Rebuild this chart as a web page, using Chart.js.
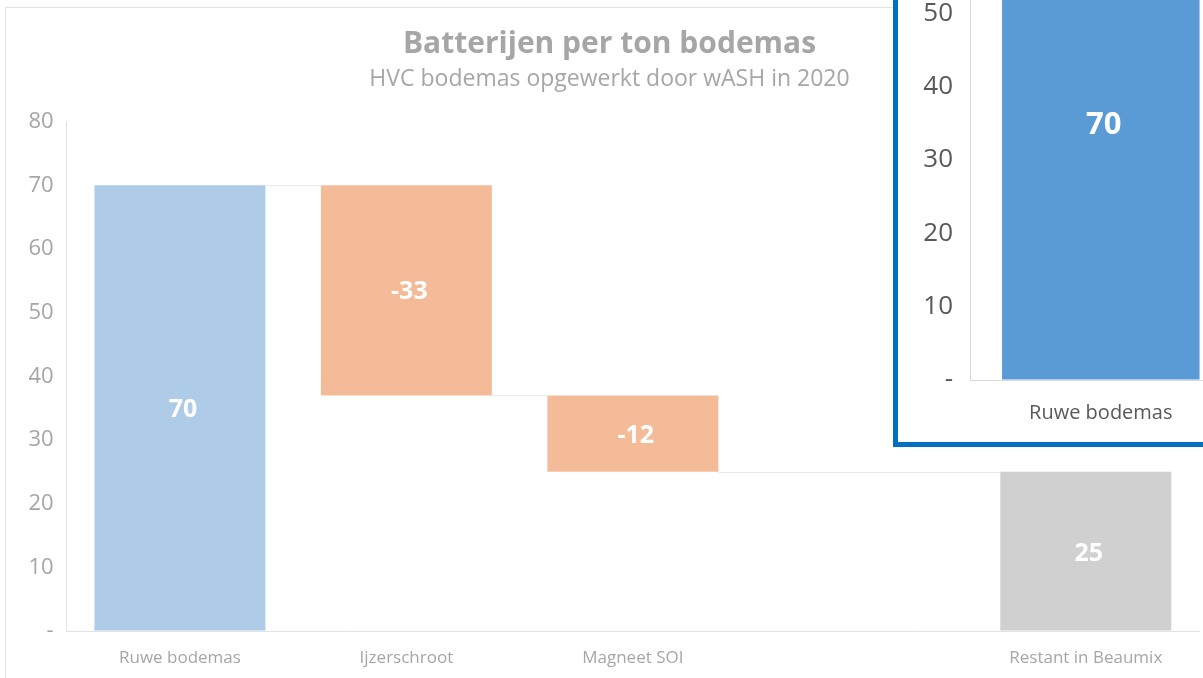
<!DOCTYPE html>
<html>
<head>
<meta charset="utf-8">
<script src="https://cdn.jsdelivr.net/npm/chart.js@4.4.1/dist/chart.umd.min.js"></script>
<style>
  html, body { margin: 0; padding: 0; background: #fff; overflow: hidden; }
  #frame { position: absolute; left: 5px; top: 7px; width: 1300px; height: 700px;
           border-left: 1px solid #e3e3e3; border-top: 1px solid #e3e3e3; }
  #main { position: absolute; left: 0; top: 0; }
  #inset { position: absolute; left: 893px; top: -20px; width: 330px; height: 457px;
           border: 5px solid #0070c0; background: #fff; overflow: hidden; }
  #zoomChart { position: absolute; left: 0; top: -250px; }
</style>
</head>
<body>
<div id="frame"></div>
<canvas id="main" width="1203" height="678"></canvas>
<div id="inset"><canvas id="zoomChart" width="1380" height="705"></canvas></div>
<script>
const categories = ['Ruwe bodemas', 'Ijzerschroot', 'Magneet SOI', '', 'Restant in Beaumix'];
const changes = [70, -33, -12, null, 25];
const isTotal = [false, false, false, false, true];
const yTicks = [0, 10, 20, 30, 40, 50, 60, 70, 80];

// turn the changes into floating [start, end] bars
const ranges = [];
let level = 0;
changes.forEach((v, i) => {
  if (v === null) { ranges.push(null); return; }
  if (isTotal[i]) { ranges.push([0, v]); level = v; return; }
  ranges.push([level, level + v]);
  level += v;
});

function barColors(palette) {
  return changes.map((v, i) => {
    if (v === null) return 'transparent';
    if (isTotal[i]) return palette.total;
    return v >= 0 ? palette.up : palette.down;
  });
}

const waterfallExtras = {
  id: 'waterfallExtras',
  afterDatasetsDraw(chart, args, opts) {
    const { ctx } = chart;
    const meta = chart.getDatasetMeta(0);
    const y = chart.scales.y;
    // connector lines between bars
    ctx.save();
    ctx.strokeStyle = opts.lineColor;
    ctx.lineWidth = 1;
    let prev = null;
    ranges.forEach((r, i) => {
      if (!r) return;
      const bar = meta.data[i];
      if (prev !== null) {
        const pb = meta.data[prev];
        const lvl = isTotal[i] ? r[1] : r[0];
        const py = Math.round(y.getPixelForValue(lvl)) + 0.5;
        ctx.beginPath();
        ctx.moveTo(pb.x + pb.width / 2, py);
        ctx.lineTo(bar.x - bar.width / 2, py);
        ctx.stroke();
      }
      prev = i;
    });
    // value labels
    ctx.fillStyle = '#ffffff';
    ctx.font = 'bold ' + opts.labelSize + 'px "Open Sans"';
    ctx.textAlign = 'center';
    ctx.textBaseline = 'middle';
    ranges.forEach((r, i) => {
      if (!r) return;
      const bar = meta.data[i];
      const mid = y.getPixelForValue((r[0] + r[1]) / 2);
      ctx.fillText(String(changes[i]), bar.x + 3, mid + 2);
    });
    ctx.restore();
  }
};

function makeOptions(cfg) {
  return {
    responsive: false,
    animation: false,
    layout: { padding: cfg.padding },
    plugins: {
      legend: { display: false },
      tooltip: { enabled: false },
      title: cfg.title,
      subtitle: cfg.subtitle,
      waterfallExtras: { lineColor: cfg.lineColor, labelSize: cfg.labelSize }
    },
    scales: {
      x: {
        grid: { color: 'transparent', drawTicks: false },
        border: { display: true, color: cfg.axisColor },
        ticks: { color: cfg.tickColor, padding: cfg.xPad, font: { family: 'Open Sans', size: cfg.xSize } },
        afterFit: (s) => { s.height = cfg.xHeight; }
      },
      y: {
        min: 0,
        max: 80,
        afterBuildTicks: (s) => { s.ticks = yTicks.map(v => ({ value: v })); },
        grid: { color: 'transparent', drawTicks: false },
        border: { display: true, color: cfg.axisColor },
        ticks: {
          color: cfg.tickColor, padding: cfg.yPad,
          font: { family: 'Open Sans', size: cfg.ySize },
          callback: (v) => v === 0 ? '-' : v
        },
        afterFit: (s) => { s.width = cfg.yWidth; }
      }
    }
  };
}

// main (faded) chart
new Chart(document.getElementById('main'), {
  type: 'bar',
  data: {
    labels: categories,
    datasets: [{
      data: ranges,
      backgroundColor: barColors({ up: '#aecbe8', down: '#f4bb98', total: '#d0d0d0' }),
      borderWidth: 0,
      barPercentage: 0.755,
      categoryPercentage: 1
    }]
  },
  options: makeOptions({
    padding: { left: 20, right: 4, top: 8, bottom: 0 },
    title: {
      display: true,
      text: 'Batterijen per ton bodemas',
      color: '#a6a6a6',
      font: { family: 'Open Sans', size: 30, weight: 'bold' },
      padding: { top: 18, bottom: 0 }
    },
    subtitle: {
      display: true,
      text: 'HVC bodemas opgewerkt door wASH in 2020',
      color: '#a6a6a6',
      font: { family: 'Open Sans', size: 23 },
      padding: { top: 4, bottom: 28 }
    },
    lineColor: '#ebebeb',
    axisColor: '#e3e3e3',
    tickColor: '#a6a6a6',
    labelSize: 25,
    xSize: 17,
    xPad: 17,
    xHeight: 47,
    ySize: 22,
    yPad: 13,
    yWidth: 46.7
  }),
  plugins: [waterfallExtras]
});

// zoomed inset
new Chart(document.getElementById('zoomChart'), {
  type: 'bar',
  data: {
    labels: categories,
    datasets: [{
      data: ranges,
      backgroundColor: barColors({ up: '#5b9bd5', down: '#ed7d31', total: '#a5a5a5' }),
      borderWidth: 0,
      barPercentage: 0.755,
      categoryPercentage: 1
    }]
  },
  options: makeOptions({
    padding: { left: 0, right: 0, top: 58, bottom: 0 },
    title: { display: false },
    subtitle: { display: false },
    lineColor: '#d9d9d9',
    axisColor: '#d9d9d9',
    tickColor: '#595959',
    labelSize: 31,
    xSize: 20,
    xPad: 21,
    xHeight: 60,
    ySize: 26,
    yPad: 17,
    yWidth: 72
  }),
  plugins: [waterfallExtras]
});
</script>
</body>
</html>
